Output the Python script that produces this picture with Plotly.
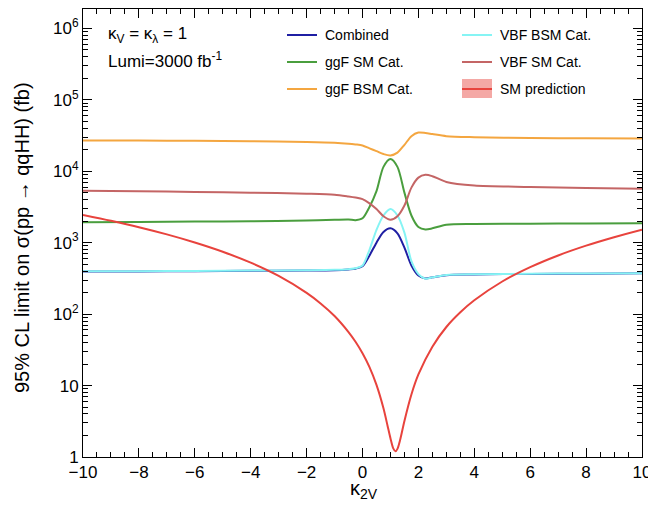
import plotly.graph_objects as go

# ---------------- data ----------------
k2v = [-10, -8, -6, -4, -2, -1, -0.5, -0.25, 0, 0.25, 0.5, 0.75, 1, 1.25,
       1.5, 1.75, 2, 2.25, 2.5, 3, 4, 6, 8, 10]

combined = [394, 395, 398, 403, 407, 412, 422, 432, 468, 661, 1000, 1410, 1585,
            1350, 851, 479, 347, 316, 327, 351, 359, 365, 368, 372]
ggf_sm = [1936, 1950, 1972, 1995, 2040, 2090, 2110, 2065, 2190, 3160, 5250,
          11500, 14800, 11500, 5010, 2400, 1660, 1530, 1585, 1780, 1820, 1840,
          1860, 1875]
ggf_bsm = [26900, 26800, 26600, 26300, 25700, 25100, 24300, 23700, 22900,
           20900, 19100, 17400, 16600, 18200, 23400, 30900, 34700, 34300,
           33100, 30900, 29900, 29200, 28800, 28600]
vbf_bsm = [398, 399, 402, 407, 411, 416, 426, 437, 479, 794, 1510, 2400, 2950,
           2400, 1380, 550, 363, 313, 327, 352, 361, 367, 370, 374]
vbf_sm = [5320, 5250, 5130, 5010, 4840, 4680, 4420, 4270, 4070, 3550, 2950,
          2340, 2090, 2340, 3310, 5890, 8130, 8910, 8510, 7080, 6310, 6030,
          5820, 5690]

k2v_sm = [-10, -9, -8, -7, -6, -5, -4, -3, -2, -1.5, -1, -0.5, -0.25, 0, 0.25,
          0.5, 0.75, 0.9, 1.0, 1.1, 1.18, 1.25, 1.35, 1.5, 1.75, 2, 2.5, 3,
          3.5, 4, 5, 6, 7, 8, 9, 10]
sm_pred = [2440, 2020, 1645, 1305, 1005, 746, 524, 342, 198, 141, 94, 56, 41,
           28.3, 18.1, 10.2, 4.8, 2.7, 1.83, 1.32, 1.2, 1.3, 1.76, 3.2, 7.5,
           14.3, 35, 66, 106, 156, 286, 454, 662, 908, 1193, 1518]

series_names = ["Combined", "ggF SM Cat.", "ggF BSM Cat.", "VBF BSM Cat.",
                "VBF SM Cat.", "SM prediction"]
series_colors = ["#1f1fa3", "#4a9e3e", "#f4a640", "#86f4f4", "#c46565", "#e8433d"]

y_tickvals = [1, 10, 100, 1000, 10000, 100000, 1000000]
y_ticktext = ["1", "10", "10<sup>2</sup>", "10<sup>3</sup>", "10<sup>4</sup>",
              "10<sup>5</sup>", "10<sup>6</sup>"]

# ---------------- figure ----------------
FONT = "Liberation Sans, Arial, Helvetica, sans-serif"
W, H = 648, 505
L, R, T, B = 83, 6, 9, 48
PW, PH = W - L - R, H - T - B


def px(x):
    return (x - L) / PW


def py(y):
    return (H - B - y) / PH


fig = go.Figure()
data_sets = [(k2v, combined), (k2v, ggf_sm), (k2v, ggf_bsm), (k2v, vbf_bsm),
             (k2v, vbf_sm), (k2v_sm, sm_pred)]
for (xs, ys), name, col in zip(data_sets, series_names, series_colors):
    fig.add_trace(go.Scatter(x=xs, y=ys, mode="lines", name=name,
                             line=dict(color=col, width=2, shape="spline",
                                       smoothing=0.8),
                             showlegend=False, hoverinfo="skip"))

minor_y = [m * 10 ** e for e in range(0, 7) for m in range(2, 10)]

fig.update_layout(
    width=W, height=H, autosize=False,
    margin=dict(l=L, r=R, t=T, b=B, pad=0, autoexpand=False),
    paper_bgcolor="white", plot_bgcolor="white",
    font=dict(family=FONT, color="black"),
    xaxis=dict(range=[-10, 10], tick0=-10, dtick=2, ticks="inside", ticklen=9,
               tickwidth=1, tickcolor="black", showline=True, linecolor="black",
               linewidth=1, mirror="allticks", showgrid=False, zeroline=False,
               automargin=False, ticklabeloverflow="allow",
               tickfont=dict(size=17, family=FONT, color="black"),
               minor=dict(dtick=0.5, tick0=-10, ticks="inside", ticklen=5,
                          tickcolor="black", showgrid=False)),
    yaxis=dict(type="log", range=[0, 6.27], tickmode="array",
               tickvals=y_tickvals, ticktext=y_ticktext, ticks="inside",
               ticklen=9, tickwidth=1, tickcolor="black", showline=True,
               linecolor="black", linewidth=1, mirror="allticks",
               showgrid=False, zeroline=False, automargin=False,
               ticklabeloverflow="allow",
               tickfont=dict(size=17, family=FONT, color="black"),
               minor=dict(tickmode="array", tickvals=minor_y, ticks="inside",
                          ticklen=5, tickcolor="black", showgrid=False)),
)

annotations = []
shapes = []

# axis titles
annotations.append(dict(text="95% CL limit on σ(pp → qqHH) (fb)", textangle=-90,
                        x=px(22), y=py(238), xref="paper", yref="paper",
                        showarrow=False, xanchor="center", yanchor="middle",
                        font=dict(size=20, family=FONT, color="black")))
annotations.append(dict(text="κ<sub>2V</sub>", x=px(364), y=py(490),
                        xref="paper", yref="paper", showarrow=False,
                        xanchor="center", yanchor="middle",
                        font=dict(size=20, family=FONT, color="black")))

# in-plot labels
annotations.append(dict(text="κ<sub>V</sub> = κ<sub>λ</sub> = 1", x=px(106),
                        y=py(35), xref="paper", yref="paper", showarrow=False,
                        xanchor="left", yanchor="middle",
                        font=dict(size=17, family=FONT, color="black")))
annotations.append(dict(text="Lumi=3000 fb<sup>-1</sup>", x=px(106), y=py(60),
                        xref="paper", yref="paper", showarrow=False,
                        xanchor="left", yanchor="middle",
                        font=dict(size=17, family=FONT, color="black")))

# manual legend (2 columns x 3 rows)
leg_pos = [(287, 35), (287, 62), (287, 89), (462, 35), (462, 62), (462, 89)]
for (lx, ly), name, col in zip(leg_pos, series_names, series_colors):
    if name == "SM prediction":
        shapes.append(dict(type="rect", xref="paper", yref="paper",
                           x0=px(lx), x1=px(lx + 30), y0=py(ly - 10),
                           y1=py(ly + 9), fillcolor="rgba(236,110,105,0.6)",
                           line=dict(width=0)))
    shapes.append(dict(type="line", xref="paper", yref="paper", x0=px(lx),
                       x1=px(lx + 30), y0=py(ly), y1=py(ly),
                       line=dict(color=col, width=2)))
    annotations.append(dict(text=name, x=px(lx + 36), y=py(ly), xref="paper",
                            yref="paper", showarrow=False, xanchor="left",
                            yanchor="middle",
                            font=dict(size=14, family=FONT, color="black")))

fig.update_layout(annotations=annotations, shapes=shapes)
fig.write_html("out.html",
               config={"displayModeBar": False, "responsive": False},
               post_script="document.body.style.margin='0';"
                           "document.body.style.overflow='hidden';")
